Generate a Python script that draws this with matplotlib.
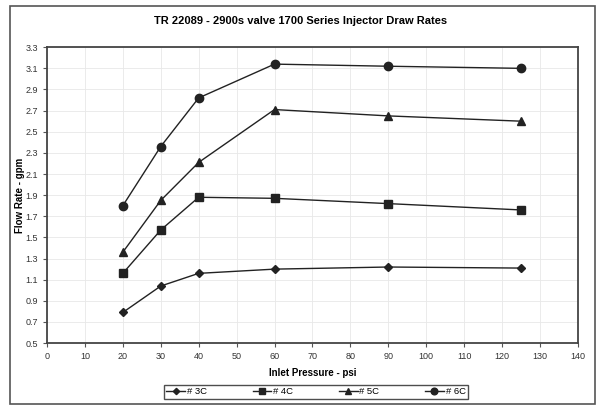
import matplotlib.pyplot as plt
from matplotlib.patches import Rectangle

plt.rcParams['font.family'] = ['Liberation Sans', 'DejaVu Sans']

# data
pressure = [20, 30, 40, 60, 90, 125]
flow_3c = [0.79, 1.04, 1.16, 1.20, 1.22, 1.21]
flow_4c = [1.16, 1.57, 1.88, 1.87, 1.82, 1.76]
flow_5c = [1.36, 1.85, 2.21, 2.71, 2.65, 2.60]
flow_6c = [1.80, 2.36, 2.82, 3.14, 3.12, 3.10]

series = [
    ('# 3C', flow_3c, 'D', 4),
    ('# 4C', flow_4c, 's', 6),
    ('# 5C', flow_5c, '^', 6),
    ('# 6C', flow_6c, 'o', 6),
]

fig = plt.figure(figsize=(6.02, 4.07), dpi=100)
ax = fig.add_axes([0.078, 0.157, 0.882, 0.727])

for label, vals, marker, ms in series:
    ax.plot(pressure, vals, color='#222222', linewidth=1.0, marker=marker,
            markersize=ms, label=label)

ax.set_xlim(0, 140)
ax.set_ylim(0.5, 3.3)
ax.set_xticks(range(0, 141, 10))
ax.set_yticks([round(0.5 + 0.2 * i, 1) for i in range(15)])
ax.set_yticklabels([f'{0.5 + 0.2 * i:.1f}' for i in range(15)])
ax.grid(True, color='#e8e8e8', linewidth=0.6)
ax.set_axisbelow(True)
ax.tick_params(labelsize=6.5, length=3, color='#555555', labelcolor='#333333')
for spine in ax.spines.values():
    spine.set_linewidth(1.3)
    spine.set_color('#444444')

ax.set_xlabel('Inlet Pressure - psi', fontsize=7, fontweight='bold', labelpad=5)
ax.set_ylabel('Flow Rate - gpm', fontsize=7, fontweight='bold')
ax.yaxis.set_label_coords(-0.041, 0.5)
fig.suptitle('TR 22089 - 2900s valve 1700 Series Injector Draw Rates',
             fontsize=8, fontweight='bold', y=0.96)

leg = fig.legend(loc='center', bbox_to_anchor=(0.525, 0.037), ncol=4,
                 fontsize=6.8, frameon=True, fancybox=False, markerscale=0.8,
                 handlelength=2.0, handletextpad=0.2, columnspacing=4.8,
                 borderpad=0.3)
leg.get_frame().set_edgecolor('#222222')
leg.get_frame().set_linewidth(1.0)

fig.patches.append(Rectangle((0.017, 0.007), 0.972, 0.978, transform=fig.transFigure,
                             fill=False, edgecolor='#555555', linewidth=1.2))

fig.savefig('out.png', dpi=100)
